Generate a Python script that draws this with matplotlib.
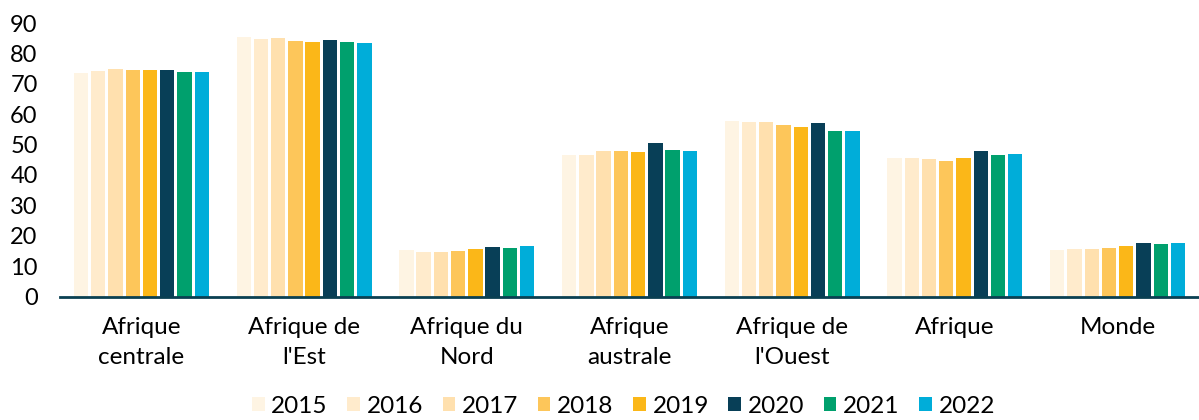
import numpy as np
import matplotlib.pyplot as plt

plt.rcParams['font.family'] = ['Lato', 'DejaVu Sans']

regions = ["Afrique\ncentrale", "Afrique de\nl'Est", "Afrique du\nNord", "Afrique\naustrale",
           "Afrique de\nl'Ouest", "Afrique", "Monde"]
years = ["2015", "2016", "2017", "2018", "2019", "2020", "2021", "2022"]

v2015 = [73.7, 85.3, 15.4, 46.7, 57.9, 45.6, 15.4]
v2016 = [74.2, 84.9, 14.7, 46.7, 57.4, 45.6, 15.6]
v2017 = [74.9, 85.1, 14.7, 47.8, 57.6, 45.4, 15.8]
v2018 = [74.7, 84.2, 15.0, 48.0, 56.3, 44.7, 16.0]
v2019 = [74.4, 83.8, 15.7, 47.6, 55.7, 45.6, 16.5]
v2020 = [74.4, 84.5, 16.3, 50.6, 57.0, 47.8, 17.6]
v2021 = [74.0, 83.8, 16.0, 48.2, 54.6, 46.7, 17.4]
v2022 = [74.0, 83.3, 16.5, 47.8, 54.6, 46.9, 17.6]
series = [v2015, v2016, v2017, v2018, v2019, v2020, v2021, v2022]

colors = ["#FEF4E3", "#FFEBCC", "#FFE0AE", "#FDC65A", "#FBB718", "#083F57", "#00A06D", "#00ADD9"]

fig = plt.figure(figsize=(11.99, 4.2), dpi=100)
ax = fig.add_axes([0.05, 0.294, 0.95, 0.651])

x = np.arange(len(regions))
pitch = 0.106
for i, (vals, col) in enumerate(zip(series, colors)):
    off = (i - 3.5) * pitch
    ax.bar(x + off, vals, width=0.088, color=col, label=years[i], zorder=2)

ax.set_xlim(-0.5, len(regions) - 0.5)
ax.set_ylim(0, 90)
ax.set_yticks(range(0, 91, 10))
ax.set_xticks(x)
ax.set_xticklabels(regions, fontsize=17.5, linespacing=1.5)
ax.tick_params(axis='y', length=0, labelsize=17, pad=16)
ax.tick_params(axis='x', length=0, pad=15)
for side in ['top', 'right', 'left']:
    ax.spines[side].set_visible(False)
ax.spines['bottom'].set_color('#0A4052')
ax.spines['bottom'].set_linewidth(2)

fig.legend(loc='lower center', bbox_to_anchor=(0.52, -0.045), ncol=8, frameon=False,
           fontsize=17.5, handlelength=0.52, handleheight=0.52, handletextpad=0.28,
           columnspacing=0.8)

fig.savefig("out.png", dpi=100)
